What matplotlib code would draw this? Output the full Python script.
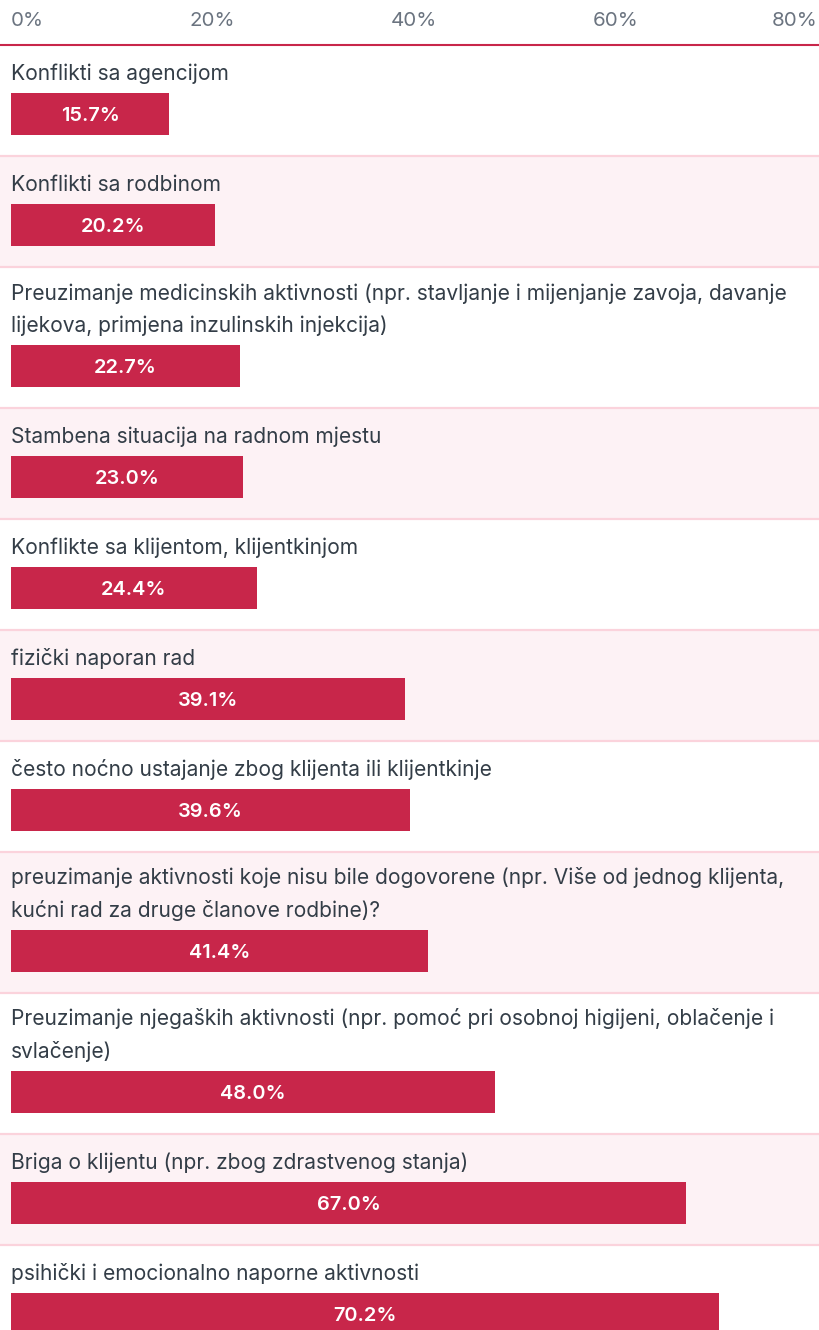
import matplotlib
matplotlib.use("Agg")
import matplotlib.pyplot as plt

# Données du graphique
categories = [
    "Konflikti sa agencijom",
    "Konflikti sa rodbinom",
    "Preuzimanje medicinskih aktivnosti (npr. stavljanje i mijenjanje zavoja, davanje\nlijekova, primjena inzulinskih injekcija)",
    "Stambena situacija na radnom mjestu",
    "Konflikte sa klijentom, klijentkinjom",
    "fizički naporan rad",
    "često noćno ustajanje zbog klijenta ili klijentkinje",
    "preuzimanje aktivnosti koje nisu bile dogovorene (npr. Više od jednog klijenta,\nkućni rad za druge članove rodbine)?",
    "Preuzimanje njegaških aktivnosti (npr. pomoć pri osobnoj higijeni, oblačenje i\nsvlačenje)",
    "Briga o klijentu (npr. zbog zdrastvenog stanja)",
    "psihički i emocionalno naporne aktivnosti",
]
valeurs = [15.7, 20.2, 22.7, 23.0, 24.4, 39.1, 39.6, 41.4, 48.0, 67.0, 70.2]
ticks = [0, 20, 40, 60, 80]
tick_labels = ["0%", "20%", "40%", "60%", "80%"]

# Couleurs
ROUGE = "#C8264A"
ROSE_FOND = "#FDF2F5"
ROSE_LIGNE = "#FBD3DC"
TEXTE = "#333D47"
GRIS = "#6B7480"

W, H = 820, 1330
px_par_pct = 10.08
x0 = 11  # début des barres en pixels

plt.rcParams['font.family'] = ['Inter', 'DejaVu Sans']

fig = plt.figure(figsize=(W / 100, H / 100), dpi=100)
haut = 45
ax = fig.add_axes([0, 0, 1, (H - haut) / H])
ax.set_xlim(-x0 / px_par_pct, (W - x0) / px_par_pct)
ax.set_ylim(H, haut)

# Mise en page des lignes (en pixels)
pt = 0.72  # px -> points à 100 dpi
y = haut
for i, (cat, val) in enumerate(zip(categories, valeurs)):
    nb_lignes = cat.count("\n") + 1
    haut_barre = y + 48 + 30 * (nb_lignes - 1)
    bas_ligne = haut_barre + 42 + 21
    if i % 2 == 1:
        ax.axhspan(y, bas_ligne, color=ROSE_FOND, lw=0, zorder=0)
    ax.axhline(bas_ligne, color=ROSE_LIGNE, lw=1.6, zorder=1)
    # va="baseline" aligne la dernière ligne
    ax.text(0, y + 35 + 30 * (nb_lignes - 1), cat, ha="left", va="baseline",
            fontsize=21 * pt, color=TEXTE, linespacing=1.72, zorder=3)
    ax.barh(haut_barre + 21, val, height=42, left=0, color=ROUGE, zorder=2)
    ax.text(val / 2, haut_barre + 21, f"{val:.1f}%", ha="center", va="center_baseline",
            fontsize=20 * pt, color="white", fontweight="semibold", zorder=3)
    y = bas_ligne

# Axe du haut
ax.xaxis.tick_top()
ax.set_xticks(ticks)
ax.set_xticklabels(tick_labels)
ax.tick_params(axis="x", length=0, pad=10.5, labelsize=20.5 * pt, labelcolor=GRIS)
ax.set_yticks([])
labs = ax.get_xticklabels()
labs[0].set_ha("left")
labs[-1].set_ha("right")
labs[-1].set_x((W - x0 + 3) / px_par_pct)

for s in ["left", "right", "bottom"]:
    ax.spines[s].set_visible(False)
ax.spines["top"].set_color(ROUGE)
ax.spines["top"].set_linewidth(1.5)

fig.savefig("out.png", dpi=100)
